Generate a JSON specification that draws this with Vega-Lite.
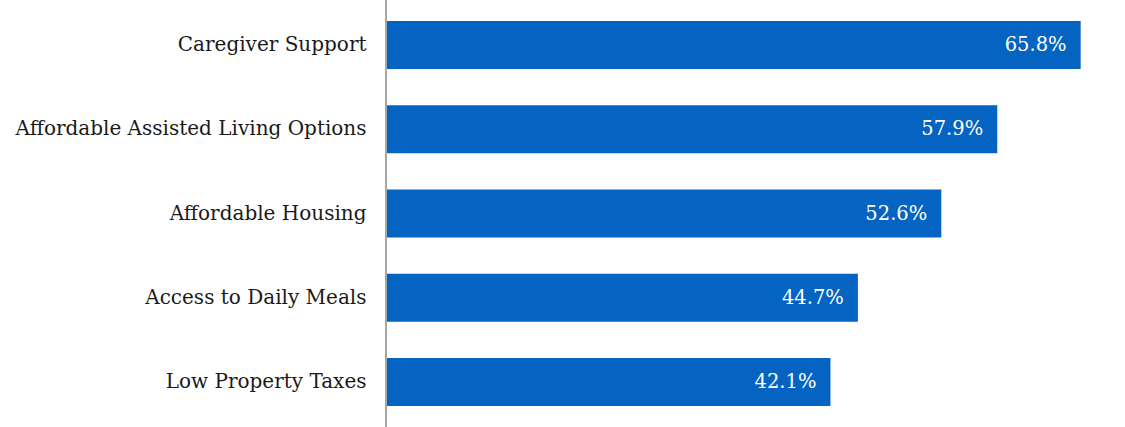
{
  "$schema": "https://vega.github.io/schema/vega-lite/v6.json",
  "autosize": {"type": "none"},
  "padding": {"left": 386, "top": 0, "right": 0, "bottom": 0},
  "width": 739,
  "height": 427,
  "background": "white",
  "config": {"view": {"stroke": null}, "font": "DejaVu Serif"},
  "data": {"values": [
    {"category": "Caregiver Support", "value": 65.8, "label": "65.8%"},
    {"category": "Affordable Assisted Living Options", "value": 57.9, "label": "57.9%"},
    {"category": "Affordable Housing", "value": 52.6, "label": "52.6%"},
    {"category": "Access to Daily Meals", "value": 44.7, "label": "44.7%"},
    {"category": "Low Property Taxes", "value": 42.1, "label": "42.1%"}
  ]},
  "layer": [
    {"mark": {"type": "bar", "color": "#0563C1"},
     "encoding": {
      "y": {"field": "category", "type": "nominal", "sort": null,
        "scale": {"paddingInner": 0.43, "paddingOuter": 0.25},
        "axis": {"title": null, "ticks": false, "domain": false, "labelFontSize": 20, "labelColor": "#1a1a1a", "labelPadding": 20, "labelLimit": 400, "labelFont": "DejaVu Serif"}},
      "x": {"field": "value", "type": "quantitative", "scale": {"domain": [0, 70]}, "axis": null}
     }},
    {"mark": {"type": "text", "align": "right", "dx": -14, "color": "white", "fontSize": 19.5, "font": "DejaVu Serif"},
     "encoding": {
      "y": {"field": "category", "type": "nominal", "sort": null},
      "x": {"field": "value", "type": "quantitative"},
      "text": {"field": "label"}
     }},
    {"mark": {"type": "rule", "color": "#A6A6A6", "strokeWidth": 2}, "data": {"values": [{"v": 0}]},
     "encoding": {"x": {"field": "v", "type": "quantitative"}}}
  ]
}
